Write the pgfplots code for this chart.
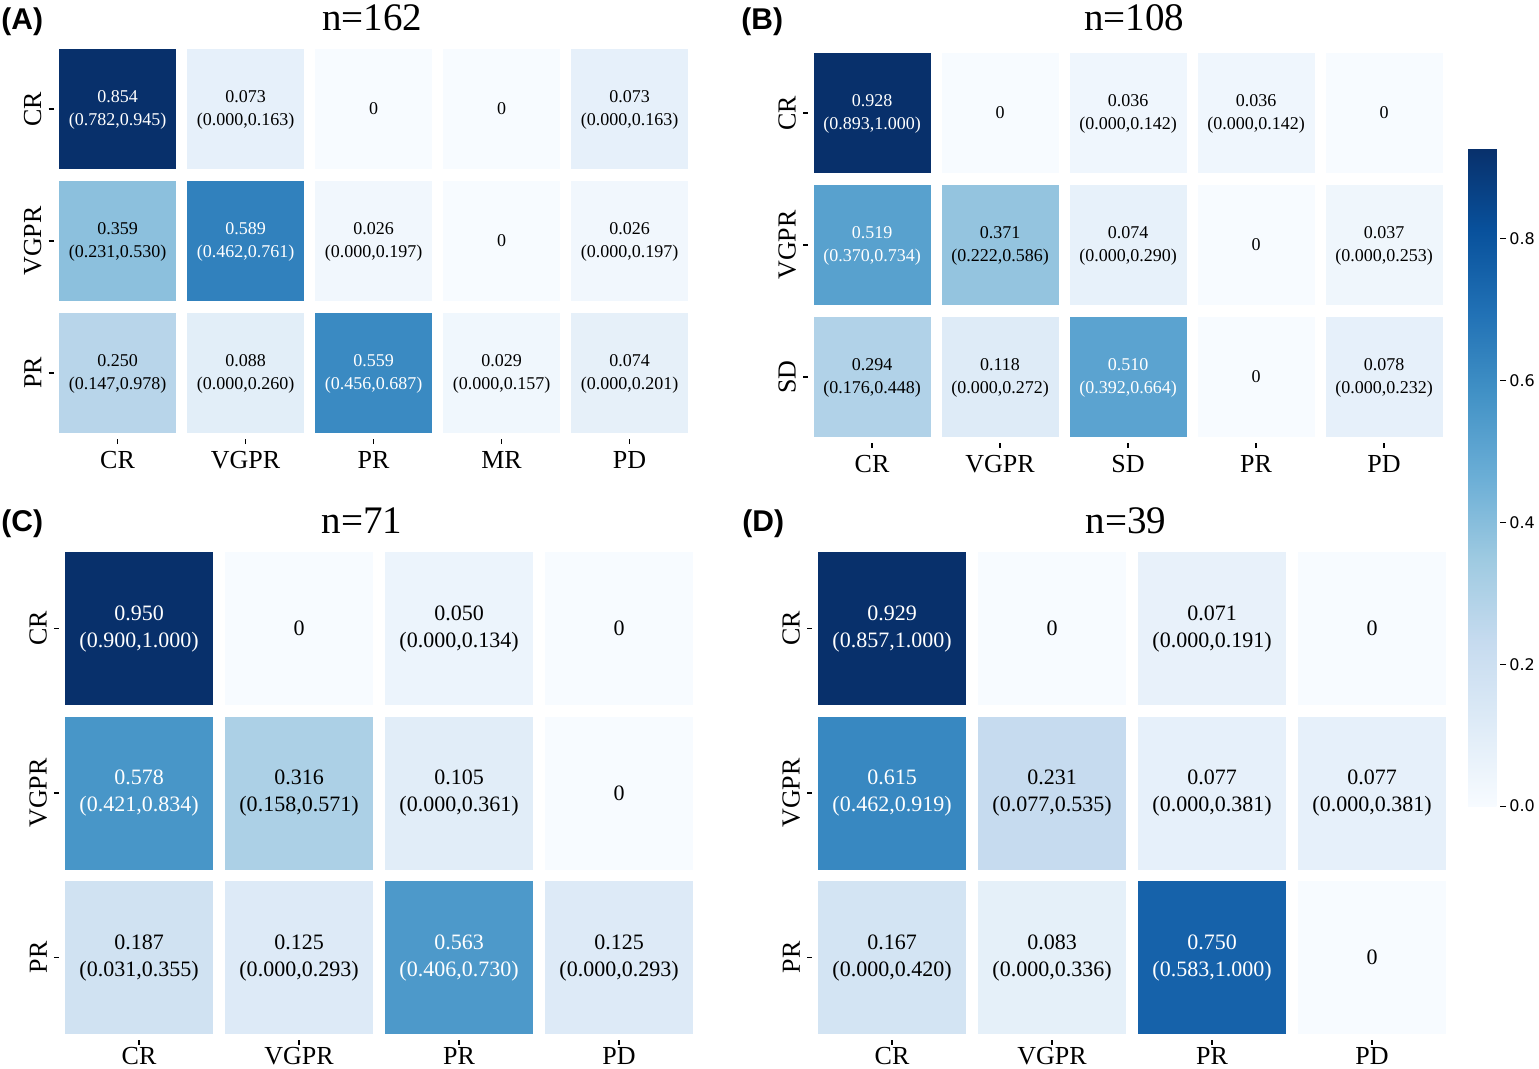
\documentclass[border=0pt]{standalone}
\usepackage{fontspec}
\setmainfont{Liberation Serif}
\newfontfamily\headfont{Liberation Sans}
\newfontfamily\cbfont{DejaVu Sans}
\usepackage{pgfplots}
\usepackage{pgfplotstable}
\pgfplotsset{compat=1.18}

% cell text: k=0 plain zero, k=1 black two-line, k=2 white two-line
\protected\def\pn#1{\pgfmathprintnumber[fixed,fixed zerofill,precision=3,assume math mode=true]{#1}}
\protected\def\twol{\begin{tabular}{@{}c@{}}\pn\val\\(\pn\lo,\pn\hi)\end{tabular}}
\protected\def\celltxt{\ifdim\kind pt<0.5pt \textcolor{black}{0}\else
  \ifdim\kind pt<1.5pt \textcolor{black}{\twol}\else\textcolor{white}{\twol}\fi\fi}

\pgfplotsset{
  colormap={blues}{rgb255=(247,251,255) rgb255=(222,235,247) rgb255=(198,219,239)
    rgb255=(158,202,225) rgb255=(107,174,214) rgb255=(66,146,198)
    rgb255=(33,113,181) rgb255=(8,81,156) rgb255=(8,48,107)},
  hm/.style={
    scale only axis, anchor=south west,
    enlargelimits=false, axis line style={draw=none},
    ymin=-0.5, ymax=2.5, ytick={0,1,2},
    tick align=outside, major tick length=2.5bp,
    tick style={black, line width=0.6bp},
    xtick pos=bottom, ytick pos=left,
    ticklabel style={font=\fontsize{13bp}{15bp}\selectfont},
    yticklabel style={rotate=90, anchor=south},
    colormap name=blues, point meta min=0,
  },
  % coloured cells: #1 half width of a cell, #2 height/width ratio
  hmcells/.style 2 args={scatter, only marks, mark=square*, mark size=#1,
    mark options={yscale=#2},
    scatter/use mapped color={draw=mapped color, fill=mapped color},
    point meta=explicit,
  },
  % cell annotations, no visible marks
  hmtext/.style={only marks, mark=text, text mark={},
    point meta=explicit,
    visualization depends on={\thisrow{v}\as\val},
    visualization depends on={\thisrow{lo}\as\lo},
    visualization depends on={\thisrow{hi}\as\hi},
    visualization depends on={\thisrow{k}\as\kind},
    nodes near coords={\celltxt},
  },
}

\pgfplotstableread{
x y v lo hi k
0 2 0.854 0.782 0.945 2
1 2 0.073 0.000 0.163 1
2 2 0 0 0 0
3 2 0 0 0 0
4 2 0.073 0.000 0.163 1
0 1 0.359 0.231 0.530 1
1 1 0.589 0.462 0.761 2
2 1 0.026 0.000 0.197 1
3 1 0 0 0 0
4 1 0.026 0.000 0.197 1
0 0 0.250 0.147 0.978 1
1 0 0.088 0.000 0.260 1
2 0 0.559 0.456 0.687 2
3 0 0.029 0.000 0.157 1
4 0 0.074 0.000 0.201 1
}\tabA

\pgfplotstableread{
x y v lo hi k
0 2 0.928 0.893 1.000 2
1 2 0 0 0 0
2 2 0.036 0.000 0.142 1
3 2 0.036 0.000 0.142 1
4 2 0 0 0 0
0 1 0.519 0.370 0.734 2
1 1 0.371 0.222 0.586 1
2 1 0.074 0.000 0.290 1
3 1 0 0 0 0
4 1 0.037 0.000 0.253 1
0 0 0.294 0.176 0.448 1
1 0 0.118 0.000 0.272 1
2 0 0.510 0.392 0.664 2
3 0 0 0 0 0
4 0 0.078 0.000 0.232 1
}\tabB

\pgfplotstableread{
x y v lo hi k
0 2 0.950 0.900 1.000 2
1 2 0 0 0 0
2 2 0.050 0.000 0.134 1
3 2 0 0 0 0
0 1 0.578 0.421 0.834 2
1 1 0.316 0.158 0.571 1
2 1 0.105 0.000 0.361 1
3 1 0 0 0 0
0 0 0.187 0.031 0.355 1
1 0 0.125 0.000 0.293 1
2 0 0.563 0.406 0.730 2
3 0 0.125 0.000 0.293 1
}\tabC

\pgfplotstableread{
x y v lo hi k
0 2 0.929 0.857 1.000 2
1 2 0 0 0 0
2 2 0.071 0.000 0.191 1
3 2 0 0 0 0
0 1 0.615 0.462 0.919 2
1 1 0.231 0.077 0.535 1
2 1 0.077 0.000 0.381 1
3 1 0.077 0.000 0.381 1
0 0 0.167 0.000 0.420 1
1 0 0.083 0.000 0.336 1
2 0 0.750 0.583 1.000 2
3 0 0 0 0 0
}\tabD

\begin{document}
\begin{tikzpicture}
\useasboundingbox (0,0) rectangle (769.5bp,-534.5bp);

% (A)
\begin{axis}[hm, at={(26.75bp,-219.5bp)}, width=320bp, height=198bp,
  xmin=-0.5, xmax=4.5, xtick={0,...,4}, xticklabels={CR,VGPR,PR,MR,PD},
  yticklabels={PR,VGPR,CR}, point meta max=0.854,
  every node near coord/.append style={anchor=center, inner sep=0pt, font=\fontsize{9bp}{11.5bp}\selectfont}]
\addplot[hmcells={29.05bp}{1.026}] table[x=x,y=y,meta=v]{\tabA};
\addplot[hmtext] table[x=x,y=y,meta=v]{\tabA};
\end{axis}

% (B)
\begin{axis}[hm, at={(404bp,-221.5bp)}, width=320bp, height=198bp,
  xmin=-0.5, xmax=4.5, xtick={0,...,4}, xticklabels={CR,VGPR,SD,PR,PD},
  yticklabels={SD,VGPR,CR}, point meta max=0.928,
  every node near coord/.append style={anchor=center, inner sep=0pt, font=\fontsize{9bp}{11.5bp}\selectfont}]
\addplot[hmcells={29.05bp}{1.026}] table[x=x,y=y,meta=v]{\tabB};
\addplot[hmtext] table[x=x,y=y,meta=v]{\tabB};
\end{axis}

% (C)
\begin{axis}[hm, at={(29.5bp,-519.875bp)}, width=320bp, height=246.75bp,
  xmin=-0.5, xmax=3.5, xtick={0,...,3}, xticklabels={CR,VGPR,PR,PD},
  yticklabels={PR,VGPR,CR}, point meta max=0.950,
  xticklabel style={inner sep=1bp},
  every node near coord/.append style={anchor=center, inner sep=0pt, font=\fontsize{11bp}{13.5bp}\selectfont}]
\addplot[hmcells={36.8bp}{1.034}] table[x=x,y=y,meta=v]{\tabC};
\addplot[hmtext] table[x=x,y=y,meta=v]{\tabC};
\end{axis}

% (D)
\begin{axis}[hm, at={(406bp,-519.875bp)}, width=320bp, height=246.75bp,
  xmin=-0.5, xmax=3.5, xtick={0,...,3}, xticklabels={CR,VGPR,PR,PD},
  yticklabels={PR,VGPR,CR}, point meta max=0.929,
  xticklabel style={inner sep=1bp},
  every node near coord/.append style={anchor=center, inner sep=0pt, font=\fontsize{11bp}{13.5bp}\selectfont}]
\addplot[hmcells={36.8bp}{1.034}] table[x=x,y=y,meta=v]{\tabD};
\addplot[hmtext] table[x=x,y=y,meta=v]{\tabD};
\end{axis}

% shared colour bar
\begin{axis}[at={(734bp,-74bp)}, anchor=north west, hide axis, scale only axis,
  width=1pt, height=1pt, xmin=0, xmax=1, ymin=0, ymax=1,
  colormap name=blues, point meta min=0, point meta max=0.928,
  colorbar,
  colorbar shift/.style={xshift=0pt},
  colorbar style={at={(parent axis.north west)}, anchor=north west,
    width=16bp, height=329bp, axis line style={draw=none},
    ytick={0,0.2,0.4,0.6,0.8}, tick align=outside, major tick length=3bp,
    tick style={black, line width=0.5bp}, ytick pos=right, yticklabel pos=right,
    yticklabel style={font=\cbfont\fontsize{8bp}{9bp}\selectfont, inner sep=1.5bp,
      /pgf/number format/fixed, /pgf/number format/fixed zerofill,
      /pgf/number format/precision=1, /pgf/number format/assume math mode=true}}]
\addplot[draw=none] coordinates {(0,0)};
\end{axis}

% titles and panel letters
\begin{scope}[font=\fontsize{19.5bp}{22bp}\selectfont]
\node at (186bp,-9bp) {n=162};
\node at (567bp,-9bp) {n=108};
\node at (181bp,-260.5bp) {n=71};
\node at (563bp,-260.5bp) {n=39};
\end{scope}
\begin{scope}[font=\headfont\bfseries\fontsize{15bp}{17bp}\selectfont, inner sep=0pt]
\node[anchor=west] at (0.5bp,-11bp) {(A)};
\node[anchor=west] at (370.5bp,-11bp) {(B)};
\node[anchor=west] at (0.5bp,-262bp) {(C)};
\node[anchor=west] at (371bp,-262bp) {(D)};
\end{scope}
\end{tikzpicture}
\end{document}
